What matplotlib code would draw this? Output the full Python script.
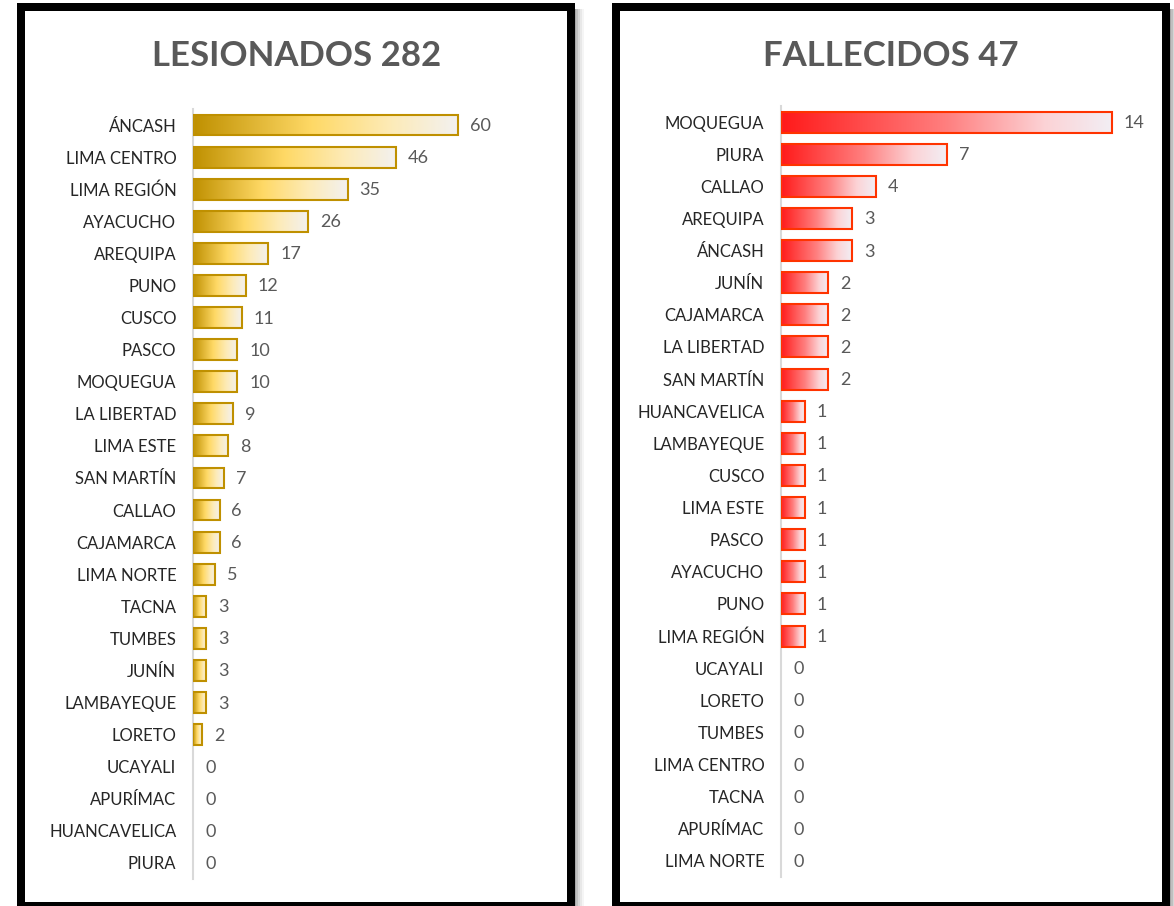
import numpy as np
import matplotlib
matplotlib.use("Agg")
import matplotlib.pyplot as plt
from matplotlib.colors import LinearSegmentedColormap
from matplotlib.patches import Rectangle

plt.rcParams['font.family'] = ['Lato', 'DejaVu Sans']

# ---- data ----
les_title = "LESIONADOS 282"
les_cats = ["ÁNCASH", "LIMA CENTRO", "LIMA REGIÓN", "AYACUCHO", "AREQUIPA", "PUNO",
            "CUSCO", "PASCO", "MOQUEGUA", "LA LIBERTAD", "LIMA ESTE", "SAN MARTÍN",
            "CALLAO", "CAJAMARCA", "LIMA NORTE", "TACNA", "TUMBES", "JUNÍN",
            "LAMBAYEQUE", "LORETO", "UCAYALI", "APURÍMAC", "HUANCAVELICA", "PIURA"]
les_vals = [60, 46, 35, 26, 17, 12, 11, 10, 10, 9, 8, 7, 6, 6, 5, 3, 3, 3, 3, 2, 0, 0, 0, 0]

fal_title = "FALLECIDOS 47"
fal_cats = ["MOQUEGUA", "PIURA", "CALLAO", "AREQUIPA", "ÁNCASH", "JUNÍN", "CAJAMARCA",
            "LA LIBERTAD", "SAN MARTÍN", "HUANCAVELICA", "LAMBAYEQUE", "CUSCO",
            "LIMA ESTE", "PASCO", "AYACUCHO", "PUNO", "LIMA REGIÓN", "UCAYALI",
            "LORETO", "TUMBES", "LIMA CENTRO", "TACNA", "APURÍMAC", "LIMA NORTE"]
fal_vals = [14, 7, 4, 3, 3, 2, 2, 2, 2, 1, 1, 1, 1, 1, 1, 1, 1, 0, 0, 0, 0, 0, 0, 0]

W, H = 1174, 906
fig = plt.figure(figsize=(W / 100, H / 100), dpi=100)
fig.patch.set_facecolor("white")


def px_rect(x0, y0, x1, y1):
    """pixel box (top-left origin) -> figure fraction [l, b, w, h]"""
    return [x0 / W, 1 - y1 / H, (x1 - x0) / W, (y1 - y0) / H]


def panel(x0, y0, x1, y1):
    # shadow
    for i, a in enumerate([0.35, 0.25, 0.16, 0.09, 0.04]):
        off = 3 + i * 2
        fig.patches.append(Rectangle(((x1 - 2 + off - 2) / W, 0), 2 / W, 1 - (y0 + 6) / H,
                                     transform=fig.transFigure, facecolor="black",
                                     alpha=a, edgecolor="none", zorder=0))
    t = 8
    l, b, w, h = px_rect(x0 + t / 2, y0 + t / 2, x1 - t / 2, y1 - t / 2)
    fig.patches.append(Rectangle((l, b), w, h, transform=fig.transFigure,
                                 facecolor="white", edgecolor="black",
                                 linewidth=t * 0.72, zorder=1))


panel(17, 3, 575, 910)
panel(612, 3, 1170, 910)

gold = LinearSegmentedColormap.from_list("gold", [(0, "#BF9000"), (0.45, "#FFD966"),
                                                   (0.75, "#FDEBB8"), (1, "#F3F1F0")])
red = LinearSegmentedColormap.from_list("red", [(0, "#FF1A1A"), (0.5, "#FF7F7F"),
                                                 (0.8, "#FCD3D6"), (1, "#F2EEF4")])
grad = np.linspace(0, 1, 256).reshape(1, -1)


def draw(ax_px, xmax, cats, vals, cmap, edge, title, title_x):
    ax = fig.add_axes(px_rect(*ax_px))
    ax.set_zorder(2)
    ax.patch.set_alpha(0)
    y = np.arange(len(cats))
    bars = ax.barh(y, vals, height=0.65, facecolor="none", edgecolor=edge,
                   linewidth=1.5, zorder=3)
    for bar, v in zip(bars, vals):
        if v > 0:
            bx, by = bar.get_x(), bar.get_y()
            bw, bh = bar.get_width(), bar.get_height()
            ax.imshow(grad, cmap=cmap, aspect="auto", extent=(bx, bx + bw, by + bh, by),
                      zorder=2, interpolation="bilinear")
        else:
            bar.set_linewidth(0)
        ax.annotate(str(v), (v, bar.get_y() + bar.get_height() / 2),
                    xytext=(12, -1), textcoords="offset pixels", va="center", ha="left",
                    fontsize=13, color="#595959")
    ax.set_xlim(0, xmax)
    ax.set_ylim(len(cats) - 0.5, -0.5)
    ax.set_yticks(y)
    ax.set_yticklabels(cats, fontsize=12, color="#262626")
    ax.tick_params(axis="y", length=0, pad=12)
    ax.set_xticks([])
    for s in ["top", "right", "bottom"]:
        ax.spines[s].set_visible(False)
    ax.spines["left"].set_color("#D9D9D9")
    ax.spines["left"].set_linewidth(1.5)
    fig.text(title_x / W, 1 - 56 / H, title, ha="center", va="center",
             fontsize=25, fontweight="bold", color="#595959")


les_scale = (458 - 193) / 60
draw((193, 109, 193 + 70 * les_scale, 879), 70, les_cats, les_vals, gold, "#BF9000",
     les_title, 297)
fal_scale = (1112 - 781) / 14
draw((781, 106, 781 + 16 * fal_scale, 877), 16, fal_cats, fal_vals, red, "#FF3300",
     fal_title, 891)

fig.savefig("out.png", dpi=100)
